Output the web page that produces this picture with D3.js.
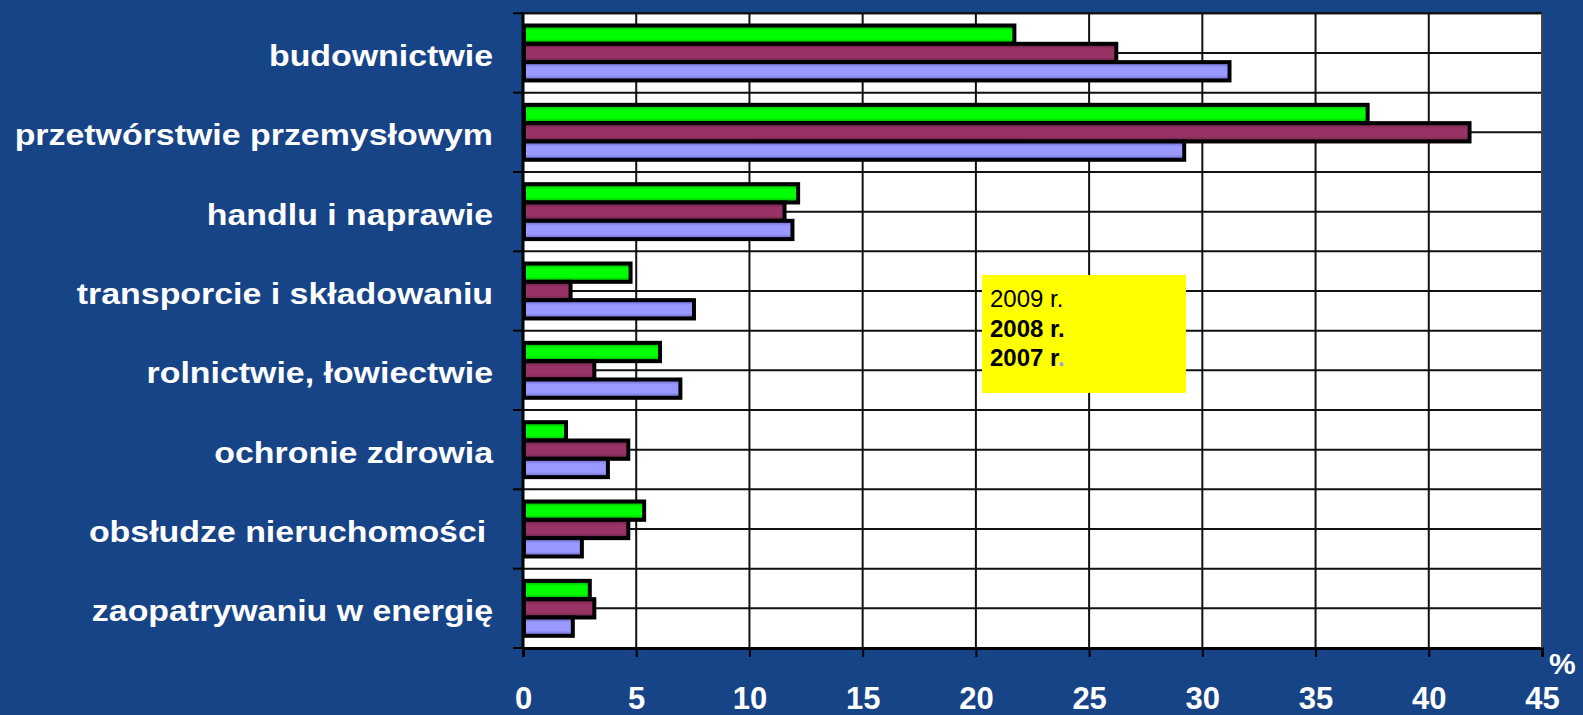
<!DOCTYPE html>
<html><head><meta charset="utf-8">
<script src="https://cdn.jsdelivr.net/npm/d3@7"></script>
<style>
html,body{margin:0;padding:0;background:#174387;}
svg{display:block;}
text{font-family:"Liberation Sans",Arial,sans-serif;}
</style></head>
<body>
<svg id="chart" width="1583" height="715"></svg>
<script>
const categories = ["budownictwie","przetwórstwie przemysłowym","handlu i naprawie","transporcie i składowaniu","rolnictwie, łowiectwie","ochronie zdrowia","obsłudze nieruchomości\u2009","zaopatrywaniu w energię"];
const series = ["2009 r.","2008 r.","2007 r."];
const values2009 = [21.7,37.3,12.15,4.75,6.05,1.9,5.35,2.95];
const values2008 = [26.2,41.8,11.55,2.1,3.15,4.65,4.65,3.15];
const values2007 = [31.2,29.2,11.9,7.55,6.95,3.75,2.6,2.2];
const xTicks = [0,5,10,15,20,25,30,35,40,45];
const seriesValues = [values2009, values2008, values2007];

const colors = {"2009 r.":["#00ff00","#00a000"],"2008 r.":["#993366","#5e1f3f"],"2007 r.":["#9999ff","#6262c4"]};

const svg = d3.select("#chart");
const W=1583,H=715;
const L=523,R=1542,T=13.3,B=648;

svg.append("rect").attr("width",W).attr("height",H).attr("fill","#174387");

const x = d3.scaleLinear().domain([0,45]).range([L,R]);
const y = d3.scaleBand().domain(categories).range([T,B]);
const yi = d3.scaleBand().domain(series).range([0,y.bandwidth()]).paddingOuter(0.665).paddingInner(0);

const defs = svg.append("defs");
series.forEach((s,i)=>{
  const g = defs.append("linearGradient").attr("id","g"+i).attr("x1",0).attr("y1",0).attr("x2",0).attr("y2",1);
  g.append("stop").attr("offset","0%").attr("stop-color",colors[s][1]);
  g.append("stop").attr("offset","28%").attr("stop-color",colors[s][0]);
  g.append("stop").attr("offset","72%").attr("stop-color",colors[s][0]);
  g.append("stop").attr("offset","100%").attr("stop-color",colors[s][1]);
});

svg.append("rect").attr("x",L).attr("y",T).attr("width",R-L).attr("height",B-T).attr("fill","#ffffff");

const hLines = [];
categories.forEach(c=>{ hLines.push(y(c)); hLines.push(y(c)+y.bandwidth()/2); });
svg.append("g").selectAll("line").data(hLines).join("line")
  .attr("x1",L).attr("x2",R).attr("y1",d=>d).attr("y2",d=>d)
  .attr("stroke","#111").attr("stroke-width",2);
svg.append("g").selectAll("line").data(xTicks.slice(1)).join("line")
  .attr("x1",d=>x(d)).attr("x2",d=>x(d)).attr("y1",T).attr("y2",B)
  .attr("stroke","#111").attr("stroke-width",2);

const barData = [];
categories.forEach((c,ci)=>{
  series.forEach((s,si)=>{ barData.push({c:c,s:s,si:si,v:seriesValues[si][ci]}); });
});
svg.append("g").selectAll("rect").data(barData).join("rect")
  .attr("x",x(0)+1)
  .attr("y",d=>y(d.c)+yi(d.s))
  .attr("width",d=>x(d.v)-x(0)-1)
  .attr("height",yi.bandwidth())
  .attr("fill",d=>"url(#g"+d.si+")")
  .attr("stroke","#000").attr("stroke-width",4);

const yEdges = categories.map(c=>y(c)).concat([B]);
svg.append("g").selectAll("line").data(yEdges).join("line")
  .attr("x1",L-10).attr("x2",L).attr("y1",d=>d).attr("y2",d=>d)
  .attr("stroke","#000").attr("stroke-width",2);
svg.append("line").attr("x1",L).attr("x2",L).attr("y1",T-1).attr("y2",B+1).attr("stroke","#000").attr("stroke-width",3);

const xAxis = d3.axisBottom(x).tickValues(xTicks).tickSize(9).tickPadding(30).tickFormat(d3.format("d"));
const gx = svg.append("g").attr("transform",`translate(0,${B})`).call(xAxis);
gx.select(".domain").attr("stroke","#000").attr("stroke-width",3);
gx.selectAll(".tick line").attr("stroke","#000").attr("stroke-width",2);
gx.selectAll(".tick text").attr("fill","#fff").attr("font-size",31).attr("font-weight","bold")
  .attr("font-family","'Liberation Sans',Arial,sans-serif").attr("dy","0.71em");

svg.append("line").attr("x1",L).attr("x2",R).attr("y1",T).attr("y2",T).attr("stroke","#111").attr("stroke-width",2);
svg.append("line").attr("x1",R).attr("x2",R).attr("y1",T).attr("y2",B).attr("stroke","#444").attr("stroke-width",2);

svg.append("g").selectAll("text").data(categories).join("text")
  .attr("transform",c=>`translate(${L-30},${y(c)+y.bandwidth()/2+13}) scale(1.13,1)`)
  .attr("text-anchor","end").attr("fill","#fff").attr("font-size",30).attr("font-weight","bold")
  .style("white-space","pre")
  .text(c=>c);

svg.append("text").attr("x",1549).attr("y",674).attr("fill","#fff").attr("font-size",30).attr("font-weight","bold").text("%");

svg.append("rect").attr("x",982).attr("y",275).attr("width",204).attr("height",118).attr("fill","#ffff00");
const lg = svg.append("g").attr("font-size",24).attr("fill","#000");
lg.append("text").attr("x",990).attr("y",307).text(series[0]);
lg.append("text").attr("x",990).attr("y",337).attr("font-weight","bold").text(series[1]);
const t3 = lg.append("text").attr("x",990).attr("y",366).attr("font-weight","bold");
t3.append("tspan").text(series[2].slice(0,-1));
t3.append("tspan").attr("fill","#9999ff").text(".");
</script>
</body></html>
